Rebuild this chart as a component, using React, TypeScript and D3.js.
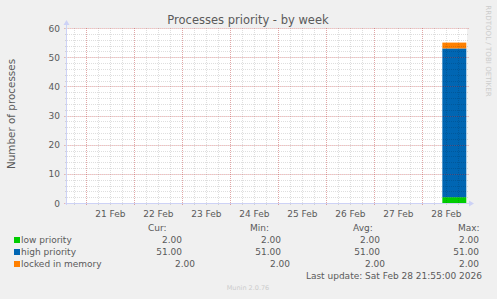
import React from "react";
import * as d3 from "d3";

const W = 497;
const H = 299;

const chartTitle = "Processes priority - by week";
const yAxisLabel = "Number of processes";
const watermark = "RRDTOOL / TOBI OETIKER";
const footer = "Munin 2.0.76";
const lastUpdate = "Last update: Sat Feb 28 21:55:00 2026";

const timeStart = "2026-02-20T14:20:00";
const timeEnd = "2026-02-28T22:20:00";

// one stacked sample interval
const sampleBounds = ["2026-02-28T10:00:00", "2026-02-28T22:00:00"];
const seriesNames = ["low priority", "high priority", "locked in memory"];
const seriesColors = ["#00CC00", "#0066B3", "#FF8000"];
const lowPriority = [2];
const highPriority = [51];
const lockedInMemory = [2];

const statHeaders = ["Cur:", "Min:", "Avg:", "Max:"];
const curValues = ["2.00", "51.00", "2.00"];
const minValues = ["2.00", "51.00", "2.00"];
const avgValues = ["2.00", "51.00", "2.00"];
const maxValues = ["2.00", "51.00", "2.00"];

const yMax = 60;
const yMajorStep = 10;
const yMinorStep = 2;

const FONT = "DejaVu Sans";
const TEXT = "#5a5a5a";

export default function App() {
  const left = 67, right = 467, top = 28, bottom = 203;
  const x = d3.scaleTime().domain([new Date(timeStart), new Date(timeEnd)]).range([left, right]);
  const y = d3.scaleLinear().domain([0, yMax]).range([bottom, top]);

  const dayTicks = d3.timeDay.range(new Date(timeStart), new Date(timeEnd));
  const sixHour = d3.timeHour.every(6)!.range(new Date(timeStart), new Date(timeEnd));
  const labelTicks = dayTicks.map((d) => d3.timeHour.offset(d, 12)).filter((d) => x(d) < right);
  const yMajor = d3.range(0, yMax + 0.001, yMajorStep);
  const yMinor = d3.range(0, yMax + 0.001, yMinorStep);

  const rows = lowPriority.map((_, i) => ({
    t0: new Date(sampleBounds[i]),
    t1: new Date(sampleBounds[i + 1]),
    low: lowPriority[i],
    high: highPriority[i],
    locked: lockedInMemory[i],
  }));
  const stack = d3.stack<any>().keys(["low", "high", "locked"]);
  const stacked = stack(rows);

  const px = (v: number) => Math.round(v) + 0.5;
  const minorColor = "rgba(0,0,0,0.13)";
  const majorColor = "rgba(230,50,50,0.32)";
  const axisColor = "#cdd2f6";

  const statCols = [
    { header: 148, ends: [182, 182, 195], vals: curValues },
    { header: 250, ends: [281, 281, 290], vals: minValues },
    { header: 353, ends: [380, 380, 385], vals: avgValues },
    { header: 458, ends: [479, 479, 479], vals: maxValues },
  ];
  const rowBase = [243, 255, 267];

  return (
    <svg width={W} height={H} style={{ position: "absolute", left: 0, top: 0 }} fontFamily={FONT}>
      <rect x={0} y={0} width={W} height={H} fill="#F0F0F0" />
      <rect x={left} y={top} width={right - left} height={bottom - top} fill="#FFFFFF" />

      {stacked.map((s, si) =>
        s.map((d, i) => (
          <rect
            key={`${si}-${i}`}
            x={x(rows[i].t0)}
            width={x(rows[i].t1) - x(rows[i].t0)}
            y={y(d[1])}
            height={y(d[0]) - y(d[1])}
            fill={seriesColors[si]}
          />
        ))
      )}

      {/* minor grid */}
      {sixHour.map((d, i) => (
        <line key={`vm${i}`} x1={px(x(d))} x2={px(x(d))} y1={top} y2={bottom + 2} stroke={minorColor} strokeDasharray="1,1" />
      ))}
      {yMinor.map((v, i) => (
        <line key={`hm${i}`} x1={left - 2} x2={right + 2} y1={px(y(v))} y2={px(y(v))} stroke={minorColor} strokeDasharray="1,1" />
      ))}
      {/* major grid */}
      {dayTicks.map((d, i) => (
        <line key={`vM${i}`} x1={px(x(d))} x2={px(x(d))} y1={top} y2={bottom + 3} stroke={majorColor} strokeDasharray="1,1" />
      ))}
      {yMajor.map((v, i) => (
        <line key={`hM${i}`} x1={left - 3} x2={right + 2} y1={px(y(v))} y2={px(y(v))} stroke={majorColor} strokeDasharray="1,1" />
      ))}

      {/* axes */}
      <line x1={left - 0.5} x2={left - 0.5} y1={bottom + 2} y2={top - 4} stroke={axisColor} />
      <path d={`M${left - 3.5},${top - 3} L${left + 2.5},${top - 3} L${left - 0.5},${top - 8} Z`} fill={axisColor} />
      <line x1={left - 2} x2={right + 3} y1={bottom + 0.5} y2={bottom + 0.5} stroke={axisColor} />
      <path d={`M${right + 2},${bottom - 2.5} L${right + 2},${bottom + 3.5} L${right + 7},${bottom + 0.5} Z`} fill={axisColor} />

      {/* tick labels */}
      {yMajor.map((v, i) => (
        <text key={`yl${i}`} x={60} y={y(v) + 3.5} textAnchor="end" fontSize={9} fill={TEXT}>
          {v}
        </text>
      ))}
      {labelTicks.map((d, i) => (
        <text key={`xl${i}`} x={x(d)} y={217} textAnchor="middle" fontSize={9} fill={TEXT}>
          {d3.timeFormat("%d %b")(d)}
        </text>
      ))}

      <text x={248} y={24} textAnchor="middle" fontSize={11.5} fill={TEXT}>
        {chartTitle}
      </text>
      <text transform={`translate(15,114) rotate(-90)`} textAnchor="middle" fontSize={10.4} fill={TEXT}>
        {yAxisLabel}
      </text>
      <text transform={`translate(486,51) rotate(90)`} textAnchor="middle" fontSize={7.1} fill="#cccccc">
        {watermark}
      </text>

      {/* legend */}
      {seriesNames.map((n, i) => (
        <g key={`lg${i}`}>
          <rect x={14} y={rowBase[i] - 6} width={6} height={6} fill={seriesColors[i]} />
          <text x={21} y={rowBase[i]} fontSize={9} fill={TEXT}>
            {n}
          </text>
        </g>
      ))}
      {statCols.map((c, ci) => (
        <g key={`sc${ci}`}>
          <text x={c.header} y={231} fontSize={9} fill={TEXT}>
            {statHeaders[ci]}
          </text>
          {c.vals.map((v, i) => (
            <text key={i} x={c.ends[i]} y={rowBase[i]} textAnchor="end" fontSize={9} fill={TEXT}>
              {v}
            </text>
          ))}
        </g>
      ))}
      <text x={482} y={279} textAnchor="end" fontSize={9} fill={TEXT}>
        {lastUpdate}
      </text>
      <text x={248} y={290} textAnchor="middle" fontSize={6.5} fill="#cccccc">
        {footer}
      </text>
    </svg>
  );
}
